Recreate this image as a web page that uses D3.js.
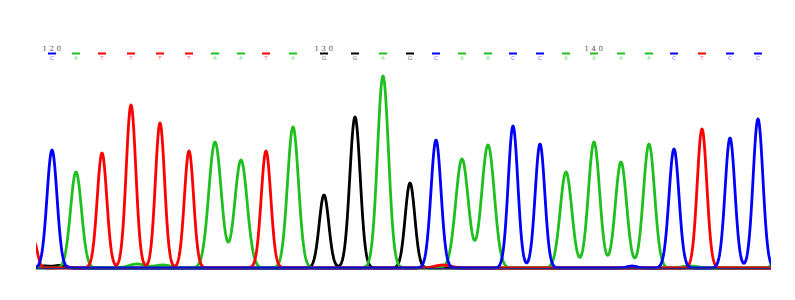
<!DOCTYPE html>
<html>
<head>
<meta charset="utf-8">
<script src="https://cdn.jsdelivr.net/npm/d3@7"></script>
<style>
  html, body { margin: 0; padding: 0; background: #fff; }
  svg { display: block; }
</style>
</head>
<body>
<svg id="chart" width="795" height="300"></svg>
<script>
// ---- data ----
const bases = ["C","A","T","T","T","T","A","A","T","A","G","G","A","G","C","A","A","C","C","A","A","A","A","C","T","C","C"];
// scan position of each called base (peak centre)
const basePos = [8, 20, 33, 47.5, 62, 76.5, 89.5, 102.5, 115, 128.5, 144, 159.5, 173.5, 187, 200, 213, 226, 238.5, 252, 265, 279, 292.5, 306.5, 319, 333, 347, 361];
// primary peak signal height of each base
const peakHeights = [1180, 960, 1150, 1630, 1450, 1170, 1260, 1080, 1170, 1410, 730, 1510, 1920, 850, 1280, 1090, 1230, 1420, 1240, 960, 1260, 1060, 1240, 1190, 1390, 1300, 1490];
// peak width (sigma, scan units) of each base
const peakWidths = [2.5, 2.75, 2.4, 2.4, 2.3, 2.3, 3.1, 3.1, 2.4, 2.75, 2.4, 2.6, 2.75, 2.4, 2.5, 3.15, 3.15, 2.4, 2.4, 2.9, 2.8, 2.8, 2.8, 2.5, 2.4, 2.45, 2.45];
// small secondary / edge peaks: base channel, scan position, height, width
const minorBase   = ["T", "G", "G", "A", "A", "T", "C", "A", "A"];
const minorPos    = [-1, 4, 12, 50.5, 63.5, 203.5, 298, 327, 372];
const minorHeight = [260, 20, 25, 40, 30, 30, 20, 20, 150];
const minorWidth  = [1.7, 3, 3, 4, 4, 4, 2.5, 4, 2.5];
// position ruler
const tickLabels = ["120", "130", "140"];
const tickBaseIndex = [0, 10, 20];

const channels = ["A", "C", "G", "T"];
const colors = { A: "#1fbf1f", C: "#0000ff", G: "#000000", T: "#ff0000" };
const drawOrder = ["G", "A", "T", "C"];

// ---- layout ----
const svg = d3.select("#chart");
const plotLeft = 36, plotRight = 771, plotBase = 268, plotTop = 58;
const x = d3.scaleLinear().domain([0, 367.5]).range([plotLeft, plotRight]);
const y = d3.scaleLinear().domain([0, 2100]).range([plotBase, plotTop]);

svg.append("defs").append("clipPath").attr("id", "plotclip")
  .append("rect").attr("x", plotLeft).attr("y", 0)
  .attr("width", plotRight - plotLeft).attr("height", plotBase + 3);

// build peak lists per channel
const peaks = {};
channels.forEach(c => peaks[c] = []);
bases.forEach((b, i) => peaks[b].push({ pos: basePos[i], h: peakHeights[i], w: peakWidths[i] }));
minorBase.forEach((b, i) => peaks[b].push({ pos: minorPos[i], h: minorHeight[i], w: minorWidth[i] }));

const scanDomain = x.domain();
const step = 0.25;
const scans = d3.range(scanDomain[0] - 2, scanDomain[1] + 2 + step, step);

function signal(c, s) {
  let v = 0;
  for (const p of peaks[c]) {
    const d = (s - p.pos) / p.w;
    v += p.h * Math.exp(-0.5 * d * d);
  }
  return v;
}

const line = d3.line().x(d => x(d[0])).y(d => y(d[1])).curve(d3.curveLinear);

const g = svg.append("g").attr("clip-path", "url(#plotclip)");
drawOrder.forEach(c => {
  const pts = scans.map(s => [s, signal(c, s)]);
  g.append("path")
    .attr("d", line(pts))
    .attr("fill", "none")
    .attr("stroke", colors[c])
    .attr("stroke-width", 2.8)
    .attr("stroke-linejoin", "round");
});

// baseline
svg.append("line")
  .attr("x1", plotLeft).attr("x2", plotRight)
  .attr("y1", y(0) + 0.5).attr("y2", y(0) + 0.5)
  .attr("stroke", "#2a2a7a").attr("stroke-width", 1.6);

// ---- base call ruler ----
const ruler = svg.append("g");
bases.forEach((b, i) => {
  const cx = x(basePos[i]);
  ruler.append("rect")
    .attr("x", cx - 4).attr("y", 52.5).attr("width", 8).attr("height", 2)
    .attr("fill", colors[b]);
  ruler.append("text")
    .attr("x", cx).attr("y", 59.5)
    .attr("text-anchor", "middle")
    .attr("font-family", "DejaVu Sans, sans-serif")
    .attr("font-size", 5.5)
    .attr("fill", colors[b])
    .attr("fill-opacity", 0.65)
    .text(b);
});
tickLabels.forEach((t, i) => {
  ruler.append("text")
    .attr("x", x(basePos[tickBaseIndex[i]]) + 1)
    .attr("y", 51)
    .attr("text-anchor", "middle")
    .attr("font-family", "DejaVu Serif, serif")
    .attr("font-size", 7)
    .attr("letter-spacing", 2.5)
    .attr("fill", "#555")
    .text(t);
});
</script>
</body>
</html>
